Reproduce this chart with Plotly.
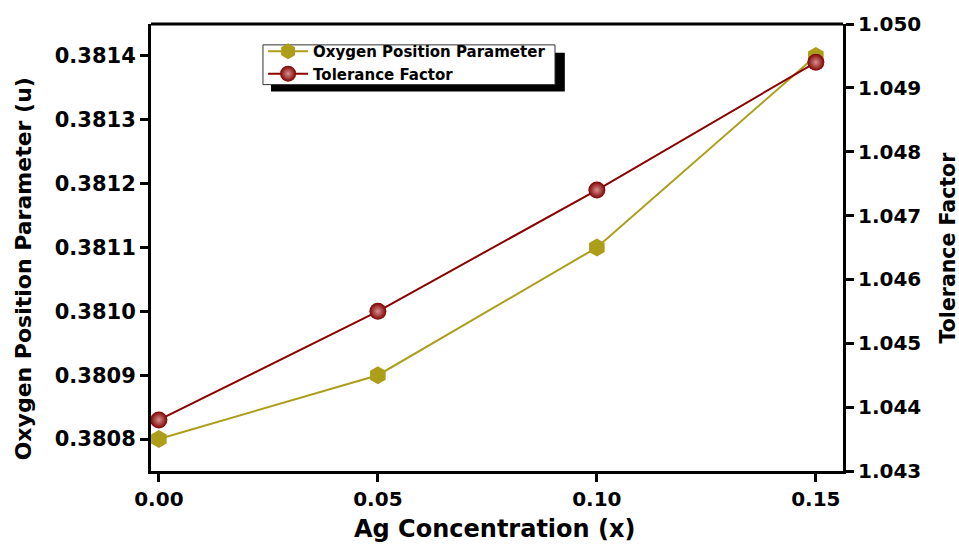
import plotly.graph_objects as go

# Ag concentration and measured structural parameters
ag_conc = [0.00, 0.05, 0.10, 0.15]
oxygen_u = [0.3808, 0.3809, 0.3811, 0.3814]
tolerance = [1.0438, 1.0455, 1.0474, 1.0494]

x_ticks = [0.00, 0.05, 0.10, 0.15]
left_ticks = [0.3808, 0.3809, 0.3810, 0.3811, 0.3812, 0.3813, 0.3814]
right_ticks = [1.043, 1.044, 1.045, 1.046, 1.047, 1.048, 1.049, 1.050]

FONT = "DejaVu Sans, sans-serif"
OLIVE = "#ad9e1a"
DARKRED = "#8b0000"

fig = go.Figure()

fig.add_trace(go.Scatter(
    x=ag_conc, y=oxygen_u, name="Oxygen Position Parameter",
    mode="lines+markers",
    line=dict(color=OLIVE, width=2),
    marker=dict(symbol="hexagon", size=18, color=OLIVE),
    yaxis="y",
))
fig.add_trace(go.Scatter(
    x=ag_conc, y=tolerance, name="Tolerance Factor",
    mode="lines+markers",
    line=dict(color=DARKRED, width=2),
    marker=dict(symbol="circle", size=17, color="#7e0000",
                gradient=dict(type="radial", color="#d89090"),
                line=dict(width=0)),
    yaxis="y2",
))


def tick_font(size):
    return dict(family=FONT, size=size, color="black", weight="bold")


axis_common = dict(
    showline=True, linecolor="black", linewidth=3, mirror=False,
    ticks="outside", ticklen=8, tickwidth=3, tickcolor="black",
    showgrid=False, zeroline=False,
)

fig.update_layout(
    width=959, height=547,
    margin=dict(l=151, r=116, t=21, b=76),
    plot_bgcolor="white", paper_bgcolor="white",
    font=dict(family=FONT, color="black"),
    xaxis=dict(
        **axis_common,
        range=[-0.0018, 0.1562],
        tickvals=x_ticks, tickformat=".2f", tickfont=tick_font(20),
    ),
    yaxis=dict(
        **axis_common,
        range=[0.38075, 0.38145],
        tickvals=left_ticks, tickformat=".4f", tickfont=tick_font(21),
    ),
    yaxis2=dict(
        **axis_common,
        overlaying="y", side="right",
        range=[1.043, 1.050],
        tickvals=right_ticks, tickformat=".3f", tickfont=tick_font(20),
    ),
    legend=dict(
        x=0.162, y=0.9756, xanchor="left", yanchor="top",
        bgcolor="rgba(0,0,0,0)", borderwidth=0,
        font=dict(family=FONT, size=15, color="black", weight="bold"),
        tracegroupgap=0, itemwidth=40,
    ),
    showlegend=True,
)

# axis titles
title_font = dict(family=FONT, color="black", weight="bold")
fig.add_annotation(text="Ag Concentration (x)", xref="paper", yref="paper",
                   x=0.497, y=-0.129, xanchor="center", yanchor="middle",
                   showarrow=False, font=dict(size=24, **title_font))
fig.add_annotation(text="Oxygen Position Parameter (u)", xref="paper", yref="paper",
                   x=-0.185, y=0.4533, xanchor="center", yanchor="middle",
                   textangle=-90, showarrow=False, font=dict(size=22, **title_font))
fig.add_annotation(text="Tolerance Factor", xref="paper", yref="paper",
                   x=1.1517, y=0.5, xanchor="center", yanchor="middle",
                   textangle=-90, showarrow=False, font=dict(size=20.5, **title_font))

# top border line of the frame
fig.add_shape(type="line", xref="paper", yref="paper",
              x0=0, x1=1, y0=1, y1=1,
              line=dict(color="black", width=3))

# legend frame with drop shadow
fig.add_shape(type="rect", xref="paper", yref="paper",
              x0=0.1734, x1=0.598, y0=0.8489, y1=0.9356,
              fillcolor="black", line=dict(width=0), layer="above")
fig.add_shape(type="rect", xref="paper", yref="paper",
              x0=0.1618, x1=0.5838, y0=0.8644, y1=0.9533,
              fillcolor="white", line=dict(color="#333333", width=1), layer="above")

fig.write_html("out.html")
